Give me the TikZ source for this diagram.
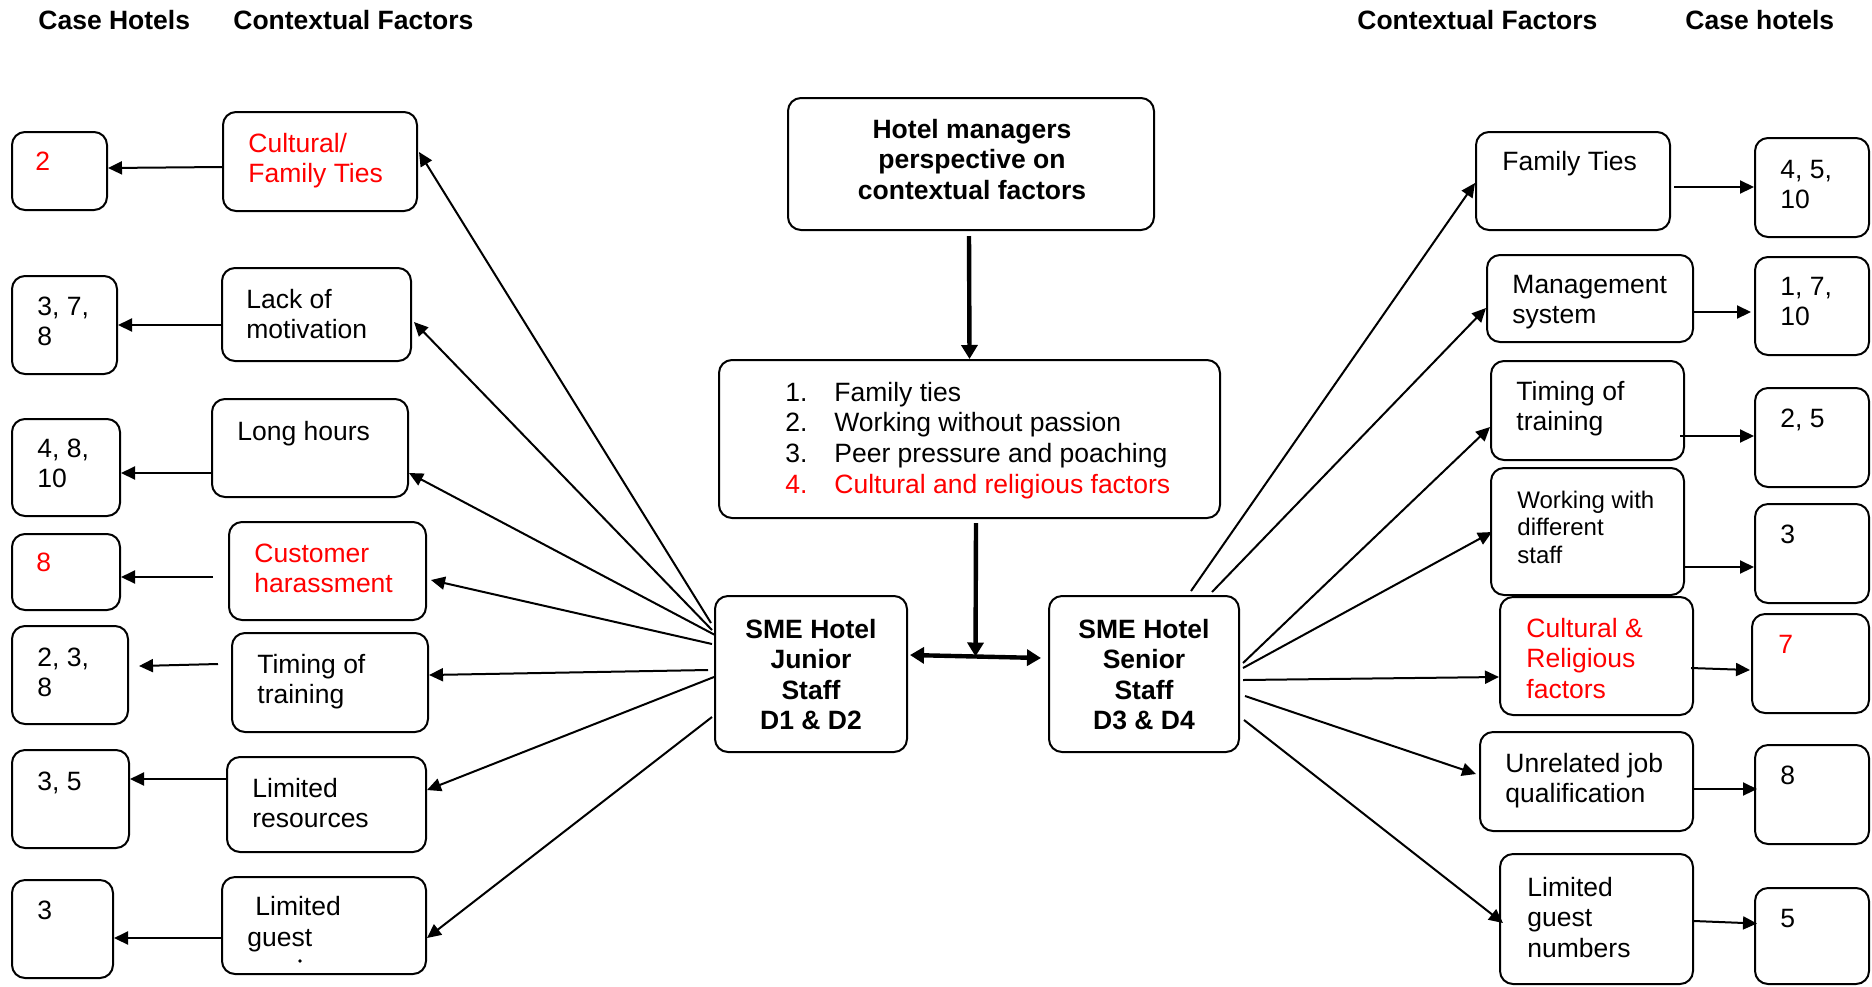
\documentclass[tikz,border=0pt]{standalone}
\usepackage{fontspec}
\setmainfont{Liberation Sans}
\usetikzlibrary{arrows.meta,fit,calc}
% stacked lines: first baseline is the node's base
\newcommand\ls[1]{\vtop{\halign{##\hfil\cr#1\crcr}}}
\newcommand\cs[1]{\vtop{\halign{\hfil##\hfil\cr#1\crcr}}}
\definecolor{hred}{RGB}{255,0,0}
\begin{document}
\begin{tikzpicture}[x=0.5pt,y=-0.5pt,
  hbox/.style={draw,line width=1pt,rounded corners=6.5pt,inner sep=0pt},
  txt/.style={inner sep=0pt,anchor=base west,font=\fontsize{13.25pt}{15.25pt}\selectfont},
  small/.style={inner sep=0pt,anchor=base west,font=\fontsize{12pt}{13.75pt}\selectfont},
  ctxt/.style={inner sep=0pt,anchor=base,font=\fontsize{13.25pt}{15.3pt}\selectfont\bfseries},
  head/.style={inner sep=0pt,anchor=base west,font=\fontsize{13.25pt}{15.25pt}\selectfont\bfseries},
  link/.style={line width=1pt,-{Triangle[length=7pt,width=6.5pt]}},
  heavy/.style={line width=2.2pt,-{Triangle[length=7pt,width=8pt]}},
  heavyboth/.style={line width=2.2pt,{Triangle[length=7pt,width=8pt]}-{Triangle[length=7pt,width=8pt]}}]
\useasboundingbox (0,0) rectangle (1872,986);

% column headings
\node[head] (h1) at (38,29) {Case Hotels};
\node[head] (h2) at (233,29) {Contextual Factors};
\node[head] (h3) at (1357,29) {Contextual Factors};
\node[head] (h4) at (1685,29) {Case hotels};

% left case-hotel boxes
\node[hbox,fit={(12,132) (107,210)}] (c1) {};
\node[hbox,fit={(12,276) (117,374)}] (c2) {};
\node[hbox,fit={(12,419) (120,516)}] (c3) {};
\node[hbox,fit={(12,534) (120,610)}] (c4) {};
\node[hbox,fit={(12,626) (128,724)}] (c5) {};
\node[hbox,fit={(12,750) (129,848)}] (c6) {};
\node[hbox,fit={(12,880) (113,978)}] (c7) {};
\node[txt,text=hred] (tc1) at (35,170) {2};
\node[txt] (tc2) at (37,315) {\ls{3, 7,\cr 8}};
\node[txt] (tc3) at (37,457) {\ls{4, 8,\cr 10}};
\node[txt,text=hred] (tc4) at (36,571) {8};
\node[txt] (tc5) at (37,666) {\ls{2, 3,\cr 8}};
\node[txt] (tc6) at (37,790) {3, 5};
\node[txt] (tc7) at (37,919) {3};

% left factor boxes
\node[hbox,fit={(223,112) (417,211)}] (f1) {};
\node[hbox,fit={(222,268) (411,361)}] (f2) {};
\node[hbox,fit={(212,399) (408,497)}] (f3) {};
\node[hbox,fit={(229,522) (426,620)}] (f4) {};
\node[hbox,fit={(232,633) (428,732)}] (f5) {};
\node[hbox,fit={(227,757) (426,852)}] (f6) {};
\node[hbox,fit={(222,877) (426,974)}] (f7) {};
\node[txt,text=hred] (tf1) at (248,152) {\ls{Cultural/\cr Family Ties}};
\node[txt] (tf2) at (246,308) {\ls{Lack of\cr motivation}};
\node[txt] (tf3) at (237,440) {Long hours};
\node[txt,text=hred] (tf4) at (254,562) {\ls{Customer\cr harassment}};
\node[txt] (tf5) at (257,673) {\ls{Timing of\cr training}};
\node[txt] (tf6) at (252,797) {\ls{Limited\cr resources}};
\node[txt] (tf7a) at (255,915) {Limited};
\node[txt] (tf7b) at (247,946) {guest};
% clipped remnant of a third line
\node[circle,fill,inner sep=0pt,minimum size=1.8pt] (tf7c) at (300,961) {};

% centre boxes
\node[hbox,fit={(788,98) (1154,230)}] (hm) {};
\node[ctxt] (thm) at (972,138) {\cs{Hotel managers\cr perspective on\cr contextual factors}};
\node[hbox,fit={(719,360) (1220,518)}] (lst) {};
\node[txt,font=\fontsize{13.25pt}{15.35pt}\selectfont] (tlst) at (785,401) {\ls{%
  \hbox to 24.5pt{1.\hfil}Family ties\cr
  \hbox to 24.5pt{2.\hfil}Working without passion\cr
  \hbox to 24.5pt{3.\hfil}Peer pressure and poaching\cr
  \textcolor{hred}{\hbox to 24.5pt{4.\hfil}Cultural and religious factors}}};
\node[hbox,fit={(715,596) (907,752)}] (jr) {};
\node[ctxt] (tjr) at (811,638) {\cs{SME Hotel\cr Junior\cr Staff\cr D1 \& D2}};
\node[hbox,fit={(1049,596) (1239,752)}] (sr) {};
\node[ctxt] (tsr) at (1144,638) {\cs{SME Hotel\cr Senior\cr Staff\cr D3 \& D4}};

% right factor boxes
\node[hbox,fit={(1476,132) (1670,230)}] (r1) {};
\node[hbox,fit={(1487,255) (1693,342)}] (r2) {};
\node[hbox,fit={(1491,361) (1684,460)}] (r3) {};
\node[hbox,fit={(1491,468) (1684,595)}] (r4) {};
\node[hbox,fit={(1500,597) (1693,715)}] (r5) {};
\node[hbox,fit={(1480,732) (1693,831)}] (r6) {};
\node[hbox,fit={(1500,854) (1693,984)}] (r7) {};
\node[txt] (tr1) at (1502,170) {Family Ties};
\node[txt] (tr2) at (1512,293) {\ls{Management\cr system}};
\node[txt] (tr3) at (1516,400) {\ls{Timing of\cr training}};
\node[small] (tr4) at (1517,508) {\ls{Working with\cr different\cr staff}};
\node[txt,text=hred] (tr5) at (1526,637) {\ls{Cultural \&\cr Religious\cr factors}};
\node[txt] (tr6) at (1505,772) {\ls{Unrelated job\cr qualification}};
\node[txt] (tr7) at (1527,896) {\ls{Limited\cr guest\cr numbers}};

% right case-hotel boxes
\node[hbox,fit={(1755,138) (1869,237)}] (k1) {};
\node[hbox,fit={(1755,257) (1869,355)}] (k2) {};
\node[hbox,fit={(1755,388) (1869,487)}] (k3) {};
\node[hbox,fit={(1755,504) (1869,603)}] (k4) {};
\node[hbox,fit={(1752,614) (1869,713)}] (k5) {};
\node[hbox,fit={(1755,745) (1869,844)}] (k6) {};
\node[hbox,fit={(1755,888) (1869,984)}] (k7) {};
\node[txt] (tk1) at (1780,178) {\ls{4, 5,\cr 10}};
\node[txt] (tk2) at (1780,295) {\ls{1, 7,\cr 10}};
\node[txt] (tk3) at (1780,427) {2, 5};
\node[txt] (tk4) at (1780,543) {3};
\node[txt,text=hred] (tk5) at (1778,653) {7};
\node[txt] (tk6) at (1780,784) {8};
\node[txt] (tk7) at (1780,927) {5};

% factor -> case hotels (left)
\draw[link] ($(f1.west)+(0,5.5)$) -- ($(c1.east)+(0,-3)$);
\draw[link] ($(f2.west)+(0,10.5)$) -- (c2.east);
\draw[link] ($(f3.west)+(0,25)$) -- ($(c3.east)+(0,5.5)$);
\draw[link] ($(f4.west)+(-15,6)$) -- ($(c4.east)+(0,5)$);
\draw[link] ($(f5.west)+(-13,-18.5)$) -- ($(c5.east)+(10,-9)$);
\draw[link] ($(f6.west)+(0,-25.5)$) -- ($(c6.east)+(0,-20)$);
\draw[link] ($(f7.west)+(0,12.5)$) -- ($(c7.east)+(0,9)$);

% junior staff -> factors
\draw[link] ($(jr.west)+(-3,-51)$) -- ($(f1.east)+(1,-9.5)$);
\draw[link] ($(jr.west)+(-2,-44)$) -- ($(f2.east)+(2,7.5)$);
\draw[link] ($(jr.west)+(1,-39)$) -- ($(f3.east)+(0,25)$);
\draw[link] ($(jr.west)+(-2,-30)$) -- ($(f4.east)+(4,9)$);
\draw[link] ($(jr.west)+(-6,-4)$) -- ($(f5.east)+(0,-7.5)$);
\draw[link] ($(jr.west)+(0,3)$) -- ($(f6.east)+(0,-14.5)$);
\draw[link] ($(jr.west)+(-2,43)$) -- ($(f7.east)+(0,12.5)$);

% centre flow
\draw[heavy] ($(hm.south)+(-2,5)$) -- (lst.north);
\draw[heavyboth] ($(jr.east)+(2,-19)$) -- ($(sr.west)+(-7,-16)$)
  coordinate[pos=0.5] (mid);
\draw[heavy] ($(lst.south)+(6.5,4)$) -- (mid);

% senior staff -> factors
\draw[link] ($(sr.north)+(47,-4)$) -- ($(r1.west)+(0,2)$);
\draw[link] ($(sr.north)+(68,-3)$) -- ($(r2.west)+(0,9.5)$);
\draw[link] ($(sr.east)+(3,-11)$) -- ($(r3.west)+(0,16.5)$);
\draw[link] ($(sr.east)+(3,-6)$) -- ($(r4.west)+(2,0.5)$);
\draw[link] ($(sr.east)+(3,6)$) -- ($(r5.west)+(0,21)$);
\draw[link] ($(sr.east)+(5,22)$) -- ($(r6.west)+(-3,-7.5)$);
\draw[link] ($(sr.east)+(4,46)$) -- ($(r7.west)+(4,4)$);

% factor -> case hotels (right)
\draw[link] ($(r1.east)+(3,6)$) -- ($(k1.west)+(0,-0.5)$);
\draw[link] ($(r2.east)+(-2,13.5)$) -- ($(k2.west)+(-3,6)$);
\draw[link] ($(r3.east)+(-5,25.5)$) -- ($(k3.west)+(0,-1.5)$);
\draw[link] ($(r4.east)+(-2,35.5)$) -- ($(k4.west)+(0,13.5)$);
\draw[link] ($(r5.east)+(-3,12)$) -- ($(k5.west)+(-1,6.5)$);
\draw[link] ($(r6.east)+(0,7.5)$) -- ($(k6.west)+(3,-5.5)$);
\draw[link] ($(r7.east)+(0,2)$) -- ($(k7.west)+(3,-12.5)$);
\end{tikzpicture}
\end{document}
